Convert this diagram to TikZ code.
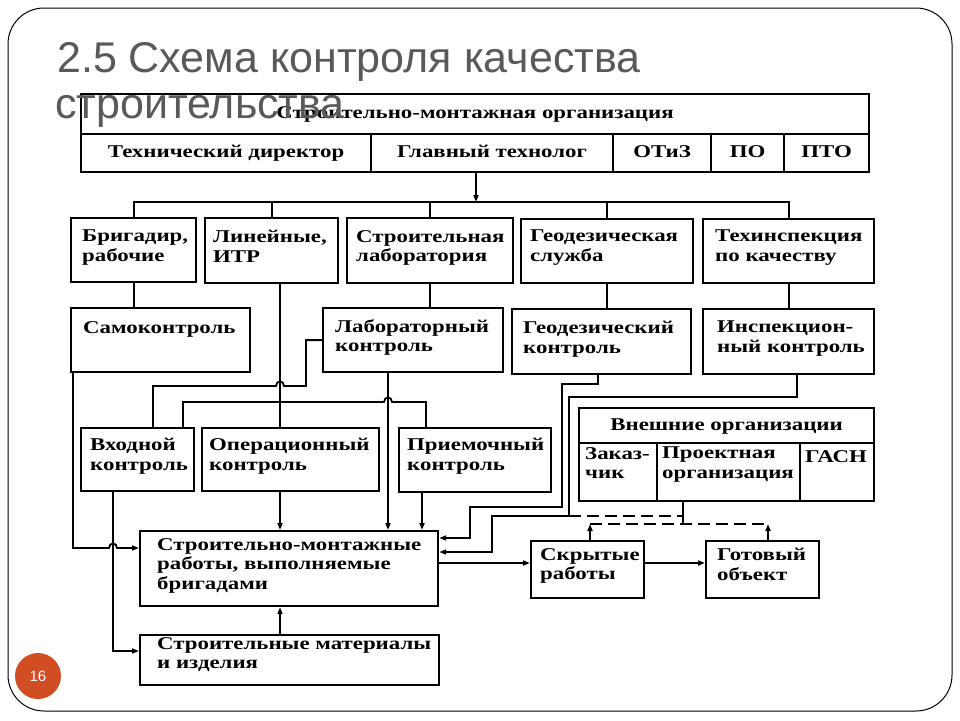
\documentclass[tikz,border=0pt]{standalone}
\usepackage{fontspec}
\setmainfont{Liberation Serif}
\newfontfamily\scanfont[FakeStretch=1.27]{Liberation Serif}
\newfontfamily\titlefont{Liberation Sans}
\usetikzlibrary{arrows.meta}

\definecolor{titlegray}{RGB}{89,89,89}
\definecolor{pagenum}{RGB}{209,77,36}
\tikzset{
  box/.style={draw,line width=2.2pt,anchor=north west,inner sep=0pt,
    text height=12pt,text depth=3pt,
    font=\scanfont\bfseries\fontsize{18}{20}\selectfont},
  txt/.style={anchor=north west,align=left,inner sep=0pt,
    font=\scanfont\bfseries\fontsize{18}{19.5}\selectfont,
    execute at begin node=\rule{0pt}{15pt}},
  wire/.style={line width=1.8pt},
  arr/.style={wire,-{Triangle[length=7pt,width=5pt]}},
  dashline/.style={wire,dash pattern=on 12pt off 6pt},
  title/.style={anchor=base west,inner sep=0pt,text=titlegray,
    font=\titlefont\fontsize{43}{46}\selectfont},
}

\begin{document}
\begin{tikzpicture}[x=1pt,y=-1pt]
  \useasboundingbox (0,0) rectangle (960,720);
  \draw[line width=1pt,rounded corners=36pt] (8,8) rectangle (952,711);

  % top organisation
  \node[box,minimum width=788,minimum height=40] (org) at (80,93) {Строительно-монтажная организация};
  \node[box,minimum width=290,minimum height=38] (tdir) at (80,133) {Технический директор};
  \node[box,minimum width=242,minimum height=38] (gtech) at (370,133) {Главный технолог};
  \node[box,minimum width=98,minimum height=38] (otiz) at (612,133) {ОТиЗ};
  \node[box,minimum width=73,minimum height=38] (po) at (710,133) {ПО};
  \node[box,minimum width=85,minimum height=38] (pto) at (783,133) {ПТО};

  % services
  \node[box,minimum width=125,minimum height=64] (brig) at (70,217) {};
  \node[box,minimum width=133,minimum height=65] (lin) at (204,217) {};
  \node[box,minimum width=166,minimum height=65] (slab) at (346,217) {};
  \node[box,minimum width=172,minimum height=64] (geos) at (520,218) {};
  \node[box,minimum width=171,minimum height=64] (tinsp) at (702,218) {};
  \node[txt] (brig-t) at ([shift={(12,13)}]brig.north west) {Бригадир,\\рабочие};
  \node[txt] (lin-t) at ([shift={(9,13)}]lin.north west) {Линейные,\\ИТР};
  \node[txt] (slab-t) at ([shift={(10,13)}]slab.north west) {Строительная\\лаборатория};
  \node[txt] (geos-t) at ([shift={(10,12)}]geos.north west) {Геодезическая\\служба};
  \node[txt] (tinsp-t) at ([shift={(13,12)}]tinsp.north west) {Техинспекция\\по качеству};

  % kinds of control
  \node[box,minimum width=179,minimum height=64] (samok) at (70,307) {};
  \node[box,minimum width=180,minimum height=64] (labk) at (322,307) {};
  \node[box,minimum width=179,minimum height=65] (geok) at (511,308) {};
  \node[box,minimum width=171,minimum height=65] (inspk) at (702,308) {};
  \node[txt] (samok-t) at ([shift={(13,11)}]samok.north west) {Самоконтроль};
  \node[txt] (labk-t) at ([shift={(13,12)}]labk.north west) {Лабораторный\\контроль};
  \node[txt] (geok-t) at ([shift={(12,13)}]geok.north west) {Геодезический\\контроль};
  \node[txt] (inspk-t) at ([shift={(15,13)}]inspk.north west) {Инспекцион-\\ный контроль};

  \node[box,minimum width=113,minimum height=63] (vhod) at (80,427) {};
  \node[box,minimum width=177,minimum height=63] (oper) at (201,427) {};
  \node[box,minimum width=152,minimum height=64] (priem) at (398,427) {};
  \node[txt] (vhod-t) at ([shift={(10,11)}]vhod.north west) {Входной\\контроль};
  \node[txt] (oper-t) at ([shift={(8,11)}]oper.north west) {Операционный\\контроль};
  \node[txt] (priem-t) at ([shift={(9,11)}]priem.north west) {Приемочный\\контроль};

  % works
  \node[box,minimum width=298,minimum height=75] (smr) at (139,530) {};
  \node[box,minimum width=299,minimum height=50] (mat) at (139,634) {};
  \node[box,minimum width=113,minimum height=57] (skr) at (530,540) {};
  \node[box,minimum width=113,minimum height=57] (got) at (705,540) {};
  \node[txt] (smr-t) at ([shift={(18,8)}]smr.north west) {Строительно-монтажные\\работы, выполняемые\\бригадами};
  \node[txt] (mat-t) at ([shift={(18,3)}]mat.north west) {Строительные материалы\\и изделия};
  \node[txt] (skr-t) at ([shift={(10,8)}]skr.north west) {Скрытые\\работы};
  \node[txt] (got-t) at ([shift={(12,8)}]got.north west) {Готовый\\объект};

  % external organisations
  \node[box,minimum width=295,minimum height=35] (ext) at (578,407) {Внешние организации};
  \node[box,minimum width=78,minimum height=58] (zak) at (578,442) {};
  \node[box,minimum width=143,minimum height=58] (proj) at (656,442) {};
  \node[box,minimum width=74,minimum height=58] (gasn) at (799,442) {};
  \node[txt] (zak-t) at ([shift={(7,5)}]zak.north west) {Заказ-\\чик};
  \node[txt] (proj-t) at ([shift={(6,5)}]proj.north west) {Проектная\\организация};
  \node[txt] (gasn-t) at ([shift={(6,5)}]gasn.north west) {ГАСН};

  % connectors
  \coordinate (bus) at (476,202);
  \coordinate (opx) at (280,0);
  \coordinate (lx) at (388,0);
  \draw[arr] (gtech.south -| bus) -- (bus);
  \draw[wire] (brig.north) |- (bus) -| (tinsp.north);
  \draw[wire] (lin.north) -- (lin.north |- bus);
  \draw[wire] (slab.north) -- (slab.north |- bus);
  \draw[wire] (geos.north) -- (geos.north |- bus);

  \draw[wire] (brig.south) -- (brig.south |- samok.north);
  \draw[wire] (slab.south) -- (slab.south |- labk.north);
  \draw[wire] (geos.south) -- (geos.south |- geok.north);
  \draw[wire] (tinsp.south) -- (inspk.north);
  \draw[wire] (lin.south -| opx) -- (oper.north -| opx);

  \draw[wire] (labk.west) -| (306,386) -- (284,386) .. controls (284,380) and (276,380) .. (276,386) -| (153,0 |- vhod.north);
  \draw[wire] (183,0 |- vhod.north) |- (384,402) .. controls (384,396) and (392,396) .. (392,402) -| (426,0 |- priem.north);
  \draw[arr] (labk.south -| lx) -- (smr.north -| lx);
  \draw[arr] (oper.south -| opx) -- (smr.north -| opx);
  \draw[arr] (422,0 |- priem.south) -- (422,0 |- smr.north);

  \draw[arr] (73,0 |- samok.south) |- (109,548) .. controls (109,542) and (117,542) .. (117,548) -- (smr.west |- 0,548);
  \draw[arr] (113,0 |- vhod.south) |- (mat.west |- 0,651);
  \draw[arr] (mat.north -| opx) -- (smr.south -| opx);

  \draw[arr] (598,0 |- geok.south) |- (562,384) |- (470,507) |- (smr.east |- 0,538);
  \draw[arr] (797,0 |- inspk.south) |- (569,397) |- (492,516) |- (smr.east |- 0,552);
  \draw[dashline] (569,516) -- (683,516);
  \draw[wire] (683,0 |- proj.south) -- (683,524);
  \draw[dashline] (590,524) -- (768,524);
  \draw[arr] (590,0 |- skr.north) -- (590,524);
  \draw[arr] (768,0 |- got.north) -- (768,524);

  \draw[arr] (smr.east |- 0,563) -- (skr.west |- 0,563);
  \draw[arr] (skr.east |- 0,563) -- (got.west |- 0,563);

  % slide title and number
  \node[title] (ttl1) at (57,72) {2.5 Схема контроля качества};
  \node[title] (ttl2) at (55,118) {строительства};
  \node[circle,fill=pagenum,minimum size=46pt,inner sep=0pt,text=white,
    font=\titlefont\fontsize{15}{18}\selectfont] (pg) at (38,676) {16};
\end{tikzpicture}
\end{document}
